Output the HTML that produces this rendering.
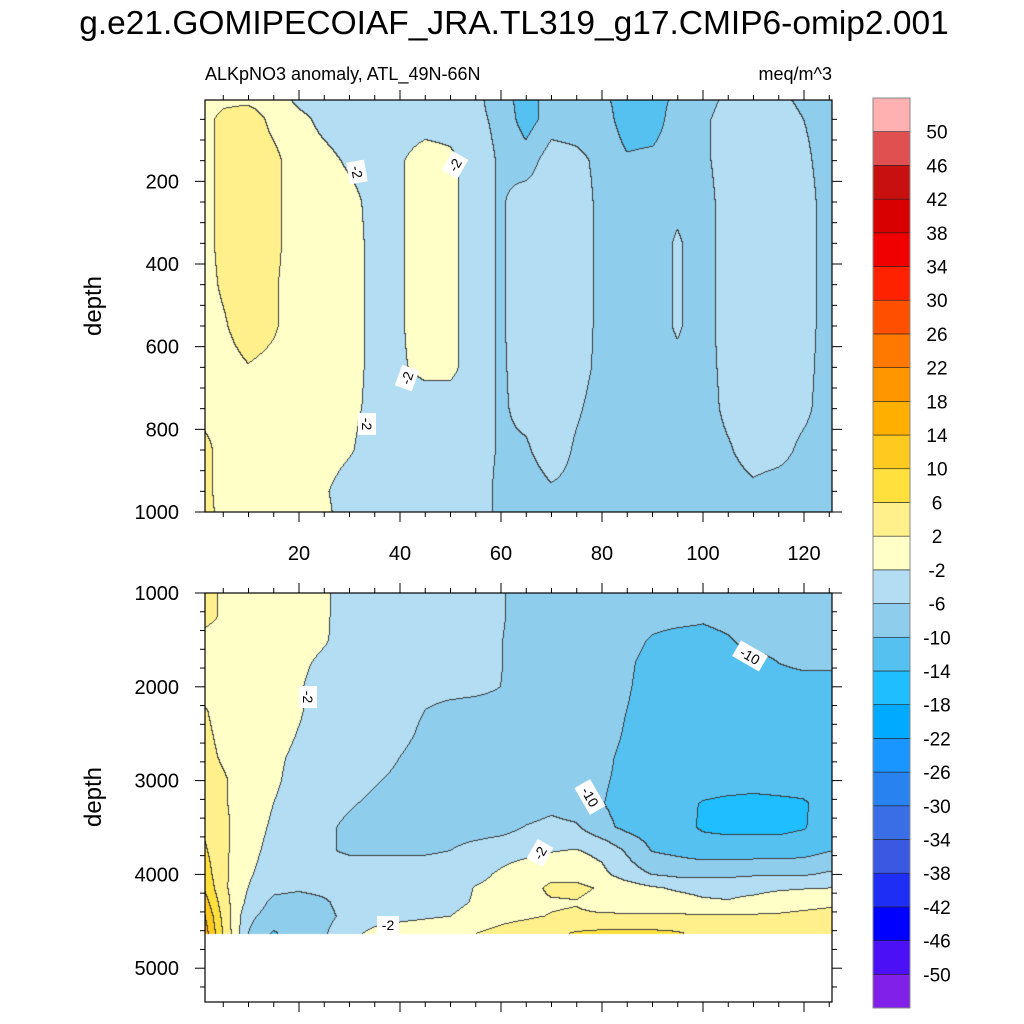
<!DOCTYPE html>
<html><head><meta charset="utf-8">
<style>
html,body{margin:0;padding:0;background:#fff;}
#wrap{position:relative;width:1024px;height:1024px;overflow:hidden;font-family:"Liberation Sans",sans-serif;}
canvas{position:absolute;left:0;top:0;}
svg{position:absolute;left:0;top:0;}
</style></head>
<body>
<div id="wrap">
<canvas id="cv" width="1024" height="1024"></canvas>
<svg id="sv" width="1024" height="1024">
<text x="514" y="34" font-size="33.5" text-anchor="middle" font-family="Liberation Sans">g.e21.GOMIPECOIAF_JRA.TL319_g17.CMIP6-omip2.001</text>
<text x="205" y="80" font-size="18" font-family="Liberation Sans">ALKpNO3 anomaly, ATL_49N-66N</text>
<text x="832" y="80" font-size="18" text-anchor="end" font-family="Liberation Sans">meq/m^3</text>
<text transform="translate(101,306) rotate(-90)" font-size="24" text-anchor="middle" font-family="Liberation Sans">depth</text>
<text transform="translate(101,797) rotate(-90)" font-size="24" text-anchor="middle" font-family="Liberation Sans">depth</text>
<g id="ax"></g>
<g id="cb"></g>
<g id="lbl"></g>
</svg>
</div>
<script>
// ---------- data ----------
const xCols=[0,5,10,15,20,25,30,35,40,45,50,55,60,65,70,75,80,85,90,95,100,105,110,115,120,125];
const topDepths=[0,50,150,250,350,450,550,650,750,850,950,1000];
const topVals=[
[0,1,1,0,-3,-4,-4,-4,-4,-4,-4,-5,-8,-12,-8,-8,-9,-12,-12,-9,-8,-5,-4,-5,-7,-10],
[0,3,4,1,-1,-3,-4,-4,-4,-4,-4,-5,-7,-12,-8,-8,-8,-12,-12,-8,-7,-4,-4,-4,-6,-8],
[0,3,4,3,0,-1,-2.5,-3.5,-2.5,0,-1,-4,-6.5,-8,-4,-5,-7,-9.5,-9,-8,-7,-4,-4,-4,-5,-8],
[0,3,4,3,0,0,-1,-3,-2.5,0,-1,-4,-6.5,-4,-4,-4,-7,-8,-8,-7,-8,-4,-4,-4,-4,-8],
[0,3,4,3,0,0,-0.5,-3,-2.5,0,-1,-4,-6.5,-4,-4,-4,-7,-8,-8,-5.5,-8,-4,-4,-4,-4,-8],
[0,2.5,4,2.5,0,0,-0.5,-3,-2.5,0,-1,-4,-6.5,-4,-4,-4,-7,-8,-8,-5.5,-8,-4,-4,-4,-4,-8],
[0,1.5,4,2.5,0,0,-0.5,-3,-2.5,0,-1,-4,-6.5,-4,-4,-4,-7,-8,-8,-5.5,-8,-4,-4,-4,-4,-8],
[0,0.5,1.8,1,0,0,-0.5,-3,-2.5,-1,-1,-4,-6.5,-4.5,-4,-4.5,-7,-8,-8,-7,-8,-4.5,-4,-4,-4.5,-8],
[0,0,0,0,0,0,-1,-3,-4,-4,-4,-4,-6.5,-5,-4,-5.5,-7.5,-8,-8,-8,-8,-5,-4,-4,-5,-8],
[5,0,0,0,0,0,-1.5,-4,-4,-4,-4,-4,-6.5,-6.5,-4,-6.5,-8,-8,-8,-8,-8,-6.5,-4,-4.5,-7,-8],
[5,0,0,0,0,-1.5,-4,-4,-4,-4,-4,-4,-7,-8,-6.5,-7,-8,-8,-8,-8,-8,-8,-7,-8,-8,-8],
[5,0.5,0,0,0,-1,-4,-4,-4,-4,-4,-4,-7,-8,-8,-8,-8,-8,-8,-8,-8,-8,-8,-8,-8,-8]
];
const botDepths=[1000,1250,1500,1750,2000,2250,2500,2750,3000,3250,3500,3750,4000,4150,4300,4450,4636];
const botVals=[
[4,1.5,0,0,0,-1.5,-3.5,-4,-4,-4,-4,-4,-5.5,-8,-8,-8,-8,-8,-8,-8,-8,-8,-8,-8,-8,-8],
[4,1.5,0,0,0,-1.5,-3.5,-4,-4,-4,-4,-4,-5.5,-8,-8,-8,-8,-8,-8,-8,-9,-8,-8,-8,-8,-8],
[1,0,0,0,0,-1.5,-4,-4,-4,-4,-4,-4,-5.8,-8,-8,-8,-8,-8,-10.5,-12,-12,-10.5,-8,-8,-8,-8],
[0,0,0,0,-1,-3,-4,-4,-4,-4,-4,-4,-5.8,-8,-8,-8,-8,-9,-12,-12,-12,-12,-12,-10,-9,-9],
[0,0,0,0,-1.5,-4,-4,-4,-4,-4,-4,-4.5,-6,-8,-8,-8,-8,-9.5,-12,-12,-12,-12,-12,-12,-12,-12],
[3,0.5,0,0,-1.5,-4,-4,-4,-4,-6,-7.5,-8,-8,-8,-8,-8,-8,-10,-12,-12,-12,-12,-12,-12,-12,-12],
[3.5,1,0,0,-2.2,-4,-4,-4,-4.5,-7,-8,-8,-8,-8,-8,-8,-8,-10.5,-12,-12,-12,-12,-12,-12,-12,-12],
[4,1.5,0,-1,-3,-4,-4,-4,-6,-8,-8,-8,-8,-8,-8,-8,-9,-11,-12,-12,-12,-12,-12,-12,-12,-12],
[4.5,2.5,0,-1.3,-3.5,-4,-4,-5.6,-7,-8,-8,-8,-8,-8,-8,-8,-9.5,-11,-12,-12,-12,-12,-12,-12,-12,-12],
[5,2.5,0,-2,-4,-4,-5.5,-7,-8,-8,-8,-8,-8,-8,-7,-8,-9.8,-11.5,-12,-12.5,-14.3,-15,-15.5,-15,-14.5,-12],
[6,3,-0.5,-2.5,-4,-5,-7,-8,-8,-8,-8,-8,-7.5,-5.8,-5,-5.5,-8.8,-11,-12,-12.5,-14.5,-15,-15,-15,-14.3,-12],
[8,3,-1,-3,-4,-5.5,-6.5,-6.5,-6.5,-6.5,-6,-4.5,-3.5,-3,-2.2,-1.8,-3,-6.5,-10.2,-11,-12,-12,-12,-12,-11.5,-10.2],
[10,3,-1.6,-3.5,-4,-4,-4,-4,-4,-4,-4,-3,-1.5,0,0.5,0.5,-1,-4,-6.2,-7,-7,-7,-6.5,-6.5,-6.5,-5.5],
[12,3,-2,-5,-5.5,-5,-4,-4,-4,-4,-4,-1.8,-1,0,3,3,1.5,0,-1.5,-2.5,-3,-3,-3,-2.5,-2.2,-2],
[15,4,-3,-7,-7.5,-6.5,-4.5,-4,-4,-4,-3.5,-1.5,0,0.5,1.5,1.8,0.5,0,0,-0.5,-1.5,-1.8,-1,0,0.5,1],
[18,5,-5,-8,-8,-7,-5,-3.5,-3,-2.5,-2,0,1,1.5,2.2,2.5,2.5,2.5,2.5,2.5,2.5,2.5,2.5,2.5,3,3.5],
[20,6,-6,-10.5,-8,-6.5,-3,-1,0,0.5,1,2,3,4,5,6.5,7,7,7,6.5,5,4,4,4,4.5,6]
];
const levels=[-50,-46,-42,-38,-34,-30,-26,-22,-18,-14,-10,-6,-2,2,6,10,14,18,22,26,30,34,38,42,46,50];
const colors=["#8020E8","#4B10F5","#0000FF","#1E2EF5","#3A58E2","#3A6EE6","#2882F0","#1996FF","#00AAFF","#1EBEFF","#55C1F1","#8FCDEC","#B2DDF2","#FFFFC8","#FFF08C","#FFE03C","#FFCA1E","#FFAF00","#FF9600","#FF7800","#FF5000","#FF2200","#F00000","#D80000","#C81010","#E05050","#FFB0B0"];
const xTickVals=[20,40,60,80,100,120];
const topYTicks=[200,400,600,800,1000];
const botYTicks=[1000,2000,3000,4000,5000];

// ---------- axes functions ----------
const L=205,R=832;
const xPix=x=>198+x*5.05;
const xData=p=>(p-198)/5.05;
const topY=d=>512-(1000-d)*0.41333;
const topD=p=>1000-(512-p)/0.41333;
const botY=d=>593+(d-1000)*0.0938;
const botD=p=>1000+(p-593)/0.0938;

function interp(depths,vals,x,d){
  let i=0; while(i<depths.length-2 && d>depths[i+1]) i++;
  let j=0; while(j<xCols.length-2 && x>xCols[j+1]) j++;
  let ty=(d-depths[i])/(depths[i+1]-depths[i]); ty=Math.max(0,Math.min(1,ty));
  let tx=(x-xCols[j])/(xCols[j+1]-xCols[j]); tx=Math.max(0,Math.min(1,tx));
  const a=vals[i][j],b=vals[i][j+1],c=vals[i+1][j],e=vals[i+1][j+1];
  return (a*(1-tx)+b*tx)*(1-ty)+(c*(1-tx)+e*tx)*ty;
}
function cls(v){let k=0;while(k<levels.length&&v>=levels[k])k++;return k;}
function hex(h){return [parseInt(h.substr(1,2),16),parseInt(h.substr(3,2),16),parseInt(h.substr(5,2),16)];}
const rgb=colors.map(hex);

const cv=document.getElementById('cv');const ctx=cv.getContext('2d');
const img=ctx.createImageData(1024,1024);
function paint(y0,y1,depthF,depths,vals){
  const W=R-L,H=y1-y0;const cl=new Int8Array(W*H);
  for(let py=0;py<H;py++){const d=depthF(y0+py+0.5);
    for(let px=0;px<W;px++){cl[py*W+px]=cls(interp(depths,vals,xData(L+px+0.5),d));}}
  for(let py=0;py<H;py++)for(let px=0;px<W;px++){
    const k=cl[py*W+px];let c=rgb[k];
    const edge=(px<W-1&&cl[py*W+px+1]!==k)||(py<H-1&&cl[(py+1)*W+px]!==k);
    const o=((y0+py)*1024+L+px)*4;
    if(edge){img.data[o]=60;img.data[o+1]=60;img.data[o+2]=60;}
    else{img.data[o]=c[0];img.data[o+1]=c[1];img.data[o+2]=c[2];}
    img.data[o+3]=255;}
}
paint(100,512,topD,topDepths,topVals);
paint(593,Math.round(botY(4636)),botD,botDepths,botVals);
ctx.putImageData(img,0,0);

// ---------- SVG overlay ----------
const NS='http://www.w3.org/2000/svg';
function mk(tag,attrs,parent){const e=document.createElementNS(NS,tag);for(const k in attrs)e.setAttribute(k,attrs[k]);parent.appendChild(e);return e;}
const ax=document.getElementById('ax');
function frame(y0,y1,name){
  const r=mk('rect',{x:L,y:y0,width:R-L,height:y1-y0,fill:'none',stroke:'#000','stroke-width':1.2},ax);
  
  
  for(let x=5;x<=125;x+=5){const p=xPix(x);if(p<L||p>R)continue;const len=(x%20===0)?10:5;
    mk('line',{x1:p,x2:p,y1:y0,y2:y0-len,stroke:'#000'},ax);mk('line',{x1:p,x2:p,y1:y1,y2:y1+len,stroke:'#000'},ax);}
}
frame(100,512,'top-plot-frame');
frame(593,1002,'bottom-plot-frame');
for(let d=50;d<=1000;d+=50){const p=topY(d);if(p<100)continue;const len=(d%200===0)?10:5;
  mk('line',{x1:L,x2:L-len,y1:p,y2:p,stroke:'#000'},ax);mk('line',{x1:R,x2:R+len,y1:p,y2:p,stroke:'#000'},ax);}
for(let d=1000;d<=5300;d+=200){const p=botY(d);if(p>1002)continue;const len=(d%1000===0)?10:5;
  mk('line',{x1:L,x2:L-len,y1:p,y2:p,stroke:'#000'},ax);mk('line',{x1:R,x2:R+len,y1:p,y2:p,stroke:'#000'},ax);}
topYTicks.forEach(v=>{const t=mk('text',{x:179,y:topY(v)+7,'font-size':20,'text-anchor':'end'},ax);t.textContent=v;
  
  });
botYTicks.forEach(v=>{const t=mk('text',{x:179,y:botY(v)+7,'font-size':20,'text-anchor':'end'},ax);t.textContent=v;
  
  });
xTickVals.forEach(v=>{const t=mk('text',{x:xPix(v),y:560,'font-size':20,'text-anchor':'middle'},ax);t.textContent=v;
  
  });

// colorbar
const cb=document.getElementById('cb');const bh=(1008-98)/27;
for(let i=0;i<27;i++){const y=1008-(i+1)*bh;
  const r=mk('rect',{x:873,y:y,width:37,height:bh,fill:colors[i],stroke:'#222','stroke-width':0.6},cb);
  
  }
mk('rect',{x:873,y:98,width:37,height:910,fill:'none',stroke:'#888','stroke-width':1},cb);
levels.forEach((v,i)=>{const y=1008-(i+1)*bh;const t=mk('text',{x:937,y:y+7,'font-size':19,'text-anchor':'middle'},cb);t.textContent=v;
  
  });

// contour labels
const lbl=document.getElementById('lbl');
const labs=[[357,172,'-2',80],[455,165,'-2',-60],[407,378,'-2',-70],[367,424,'-2',90],[308,697,'-2',90],[750,656,'-10',30],[590,797,'-10',60],[540,853,'-2',-60],[388,925,'-2',0]];
labs.forEach(a=>{const g=mk('g',{transform:`translate(${a[0]},${a[1]}) rotate(${a[3]})`},lbl);
  
  
  const w=a[2].length*9+4;mk('rect',{x:-w/2,y:-9,width:w,height:18,fill:'#fff'},g);
  const t=mk('text',{x:0,y:5,'font-size':14,'text-anchor':'middle'},g);t.textContent=a[2];});
</script>
</body></html>
